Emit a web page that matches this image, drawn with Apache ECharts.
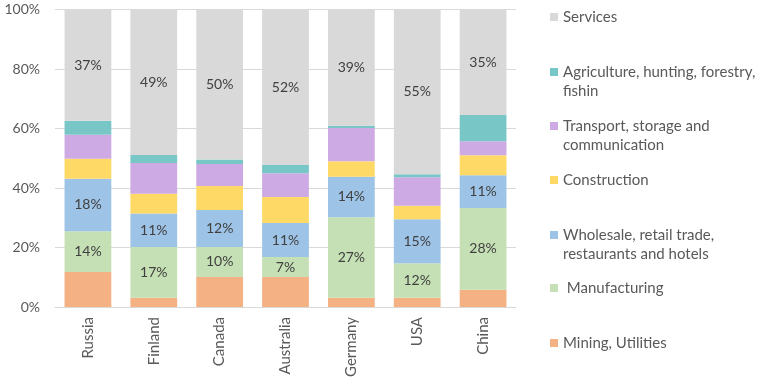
<!DOCTYPE html>
<html><head><meta charset="utf-8">
<script src="https://cdn.jsdelivr.net/npm/echarts@6/dist/echarts.min.js"></script>
<style>html,body{margin:0;padding:0;background:#fff}#c{width:766px;height:382px}</style>
</head><body><div id="c"></div>
<script>
const countries = ['Russia','Finland','Canada','Australia','Germany','USA','China'];
const mining        = [11.8, 3.1, 10.1, 10.1, 3.1, 3.1, 5.8];
const manufacturing = [13.7, 17.1, 10.1, 6.7, 27.1, 11.6, 27.5];
const wholesale     = [17.6, 11.2, 12.4, 11.4, 13.6, 14.8, 11.0];
const construction  = [6.7, 6.7, 8.1, 8.8, 5.2, 4.5, 6.7];
const transport     = [8.1, 10.3, 7.4, 8.0, 11.2, 9.6, 4.7];
const agriculture   = [4.7, 2.7, 1.5, 2.7, 0.7, 1.0, 8.8];
const services      = [37.4, 48.9, 50.4, 52.3, 39.1, 55.4, 35.4];
const yTicks = [0, 20, 40, 60, 80, 100];

const names = {
  mining: 'Mining, Utilities',
  manufacturing: ' Manufacturing',
  wholesale: 'Wholesale, retail trade,\nrestaurants and hotels',
  construction: 'Construction',
  transport: 'Transport, storage and\ncommunication',
  agriculture: 'Agriculture, hunting, forestry,\nfishin',
  services: 'Services'
};
const colors = {
  mining: '#f4b183', manufacturing: '#c5e0b4', wholesale: '#9dc3e6',
  construction: '#ffd966', transport: '#cdaae3', agriculture: '#78c6c6', services: '#d9d9d9'
};
const FONT = 'Lato';
const order = ['mining','manufacturing','wholesale','construction','transport','agriculture','services'];
const dataMap = {mining, manufacturing, wholesale, construction, transport, agriculture, services};
const labeled = {manufacturing: true, wholesale: true, services: true};

const series = order.map(k => ({
  name: names[k], type: 'bar', stack: 'all', barWidth: '71%',
  data: dataMap[k],
  itemStyle: {color: colors[k]},
  label: {
    show: !!labeled[k], position: 'inside', color: '#404040', fontSize: 14, fontFamily: FONT,
    formatter: p => Math.round(p.value) + '%'
  },
  emphasis: {disabled: true}
}));

const LH = 19;
const legendPos = [
  ['services', 17, false],
  ['agriculture', 72, true],
  ['transport', 126, true],
  ['construction', 180, false],
  ['wholesale', 235, true],
  ['manufacturing', 288, false],
  ['mining', 343, false]
];
const legends = legendPos.map(([k, y, two]) => ({
  data: [names[k]], left: 550, top: two ? y - 1.5 * LH : y - LH / 2,
  itemWidth: 8, itemHeight: 8, icon: 'rect', selectedMode: false,
  formatter: two ? (n => '\n' + n) : (n => n),
  textStyle: {fontSize: 15, fontFamily: FONT, color: '#595959', lineHeight: LH},
  padding: 0, itemGap: 0
}));

const chart = echarts.init(document.getElementById('c'));
chart.setOption({
  animation: false,
  grid: {left: 55, right: 250, top: 9.5, bottom: 75},
  legend: legends,
  xAxis: {
    type: 'category', data: countries,
    axisLine: {show: true, lineStyle: {color: '#d9d9d9'}},
    axisTick: {show: false},
    axisLabel: {rotate: 90, fontSize: 15, fontFamily: FONT, color: '#595959', margin: 10}
  },
  yAxis: {
    type: 'value', min: yTicks[0], max: yTicks[yTicks.length - 1], interval: 20,
    axisLine: {show: false}, axisTick: {show: false},
    splitLine: {lineStyle: {color: '#d9d9d9', width: 1}},
    axisLabel: {fontSize: 14, fontFamily: FONT, color: '#595959', margin: 15, formatter: '{value}%'}
  },
  series
});
</script></body></html>
